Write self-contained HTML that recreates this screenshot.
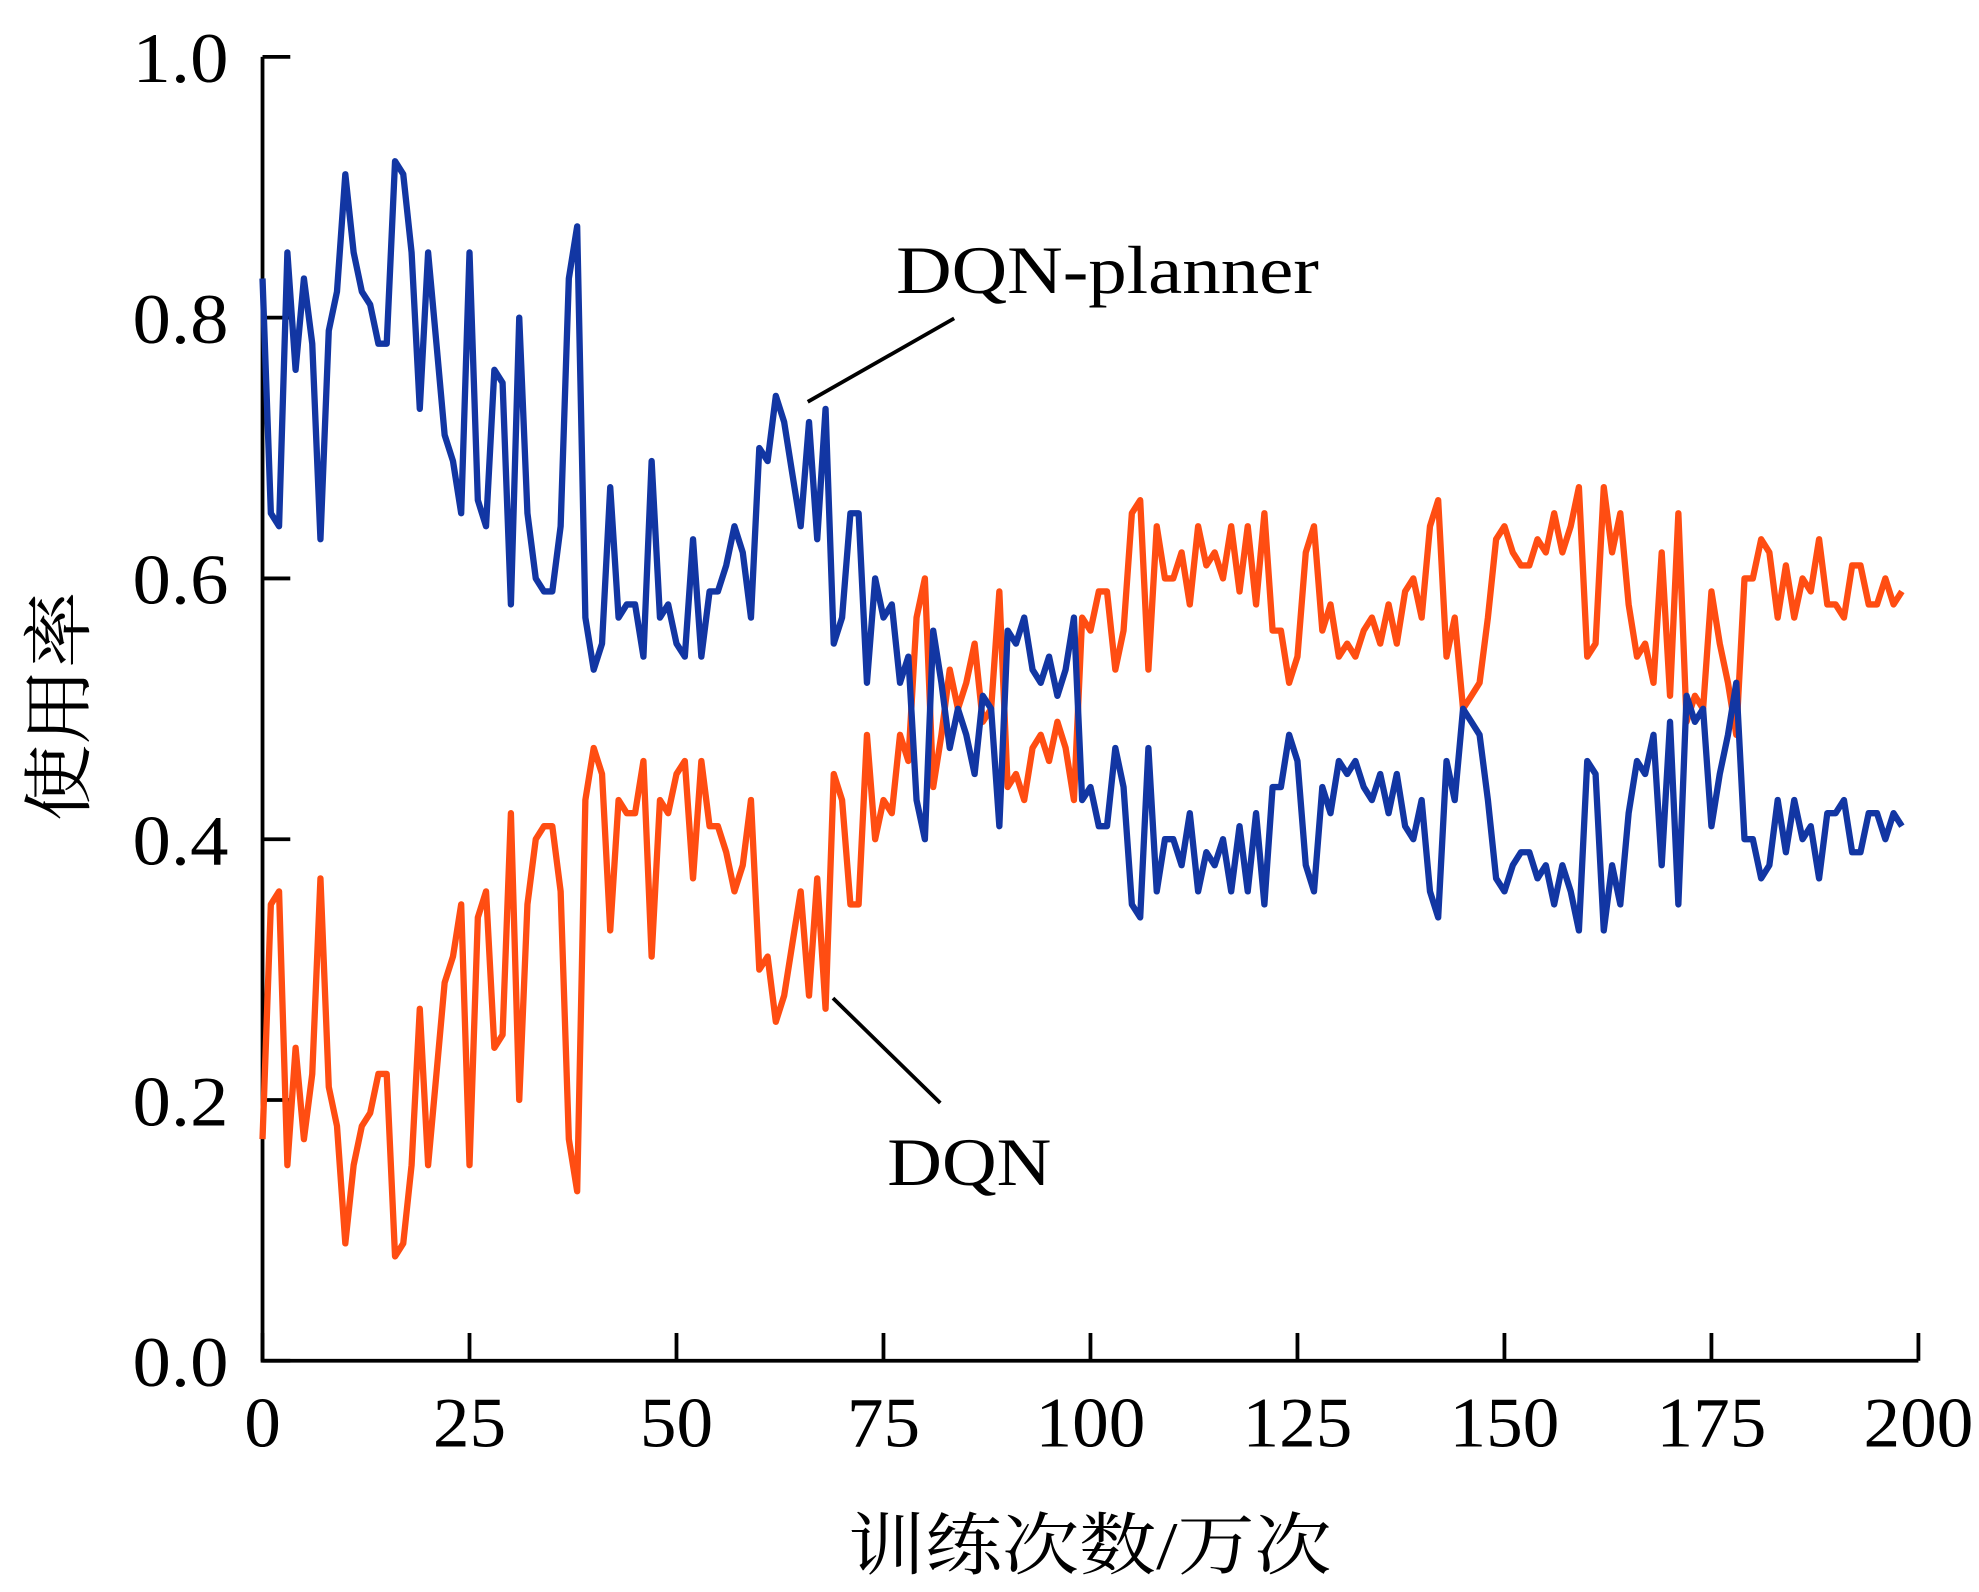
<!DOCTYPE html>
<html><head><meta charset="utf-8"><style>
html,body{margin:0;padding:0;background:#fff;}
svg{display:block;}
</style></head><body>
<svg id="chart" width="1979" height="1592" viewBox="0 0 1568 1260" preserveAspectRatio="none" xmlns="http://www.w3.org/2000/svg">
<g id="axes"></g>
<g id="series"></g>
<line x1="640" y1="318" x2="756" y2="252" stroke="#000" stroke-width="3"/>
<text x="710" y="232" font-family="Liberation Serif, serif" font-size="54" textLength="335" lengthAdjust="spacingAndGlyphs">DQN-planner</text>
<line x1="660" y1="790" x2="745" y2="873" stroke="#000" stroke-width="3"/>
<text x="703" y="938" font-family="Liberation Serif, serif" font-size="54" textLength="130" lengthAdjust="spacingAndGlyphs">DQN</text>
<text x="672" y="1242" font-family="'Liberation Serif','Noto Serif CJK SC',serif" font-size="54" textLength="383" lengthAdjust="spacingAndGlyphs">训练次数/万次</text>
<text transform="translate(66,650) rotate(-90)" font-family="'Liberation Serif','Noto Serif CJK SC',serif" font-size="56" textLength="182" lengthAdjust="spacingAndGlyphs">使用率</text>
</svg>
<script>
const xTicks=[0,25,50,75,100,125,150,175,200];
const yTicks=[0,0.2,0.4,0.6,0.8,1.0];
const yTickLabels=["0.0","0.2","0.4","0.6","0.8","1.0"];
const plannerValues=[0.83,0.65,0.64,0.85,0.76,0.83,0.78,0.63,0.79,0.82,0.91,0.85,0.82,0.81,0.78,0.78,0.92,0.91,0.85,0.73,0.85,0.78,0.71,0.69,0.65,0.85,0.66,0.64,0.76,0.75,0.58,0.80,0.65,0.60,0.59,0.59,0.64,0.83,0.87,0.57,0.53,0.55,0.67,0.57,0.58,0.58,0.54,0.69,0.57,0.58,0.55,0.54,0.63,0.54,0.59,0.59,0.61,0.64,0.62,0.57,0.70,0.69,0.74,0.72,0.68,0.64,0.72,0.63,0.73,0.55,0.57,0.65,0.65,0.52,0.60,0.57,0.58,0.52,0.54,0.43,0.40,0.56,0.52,0.47,0.50,0.48,0.45,0.51,0.50,0.41,0.56,0.55,0.57,0.53,0.52,0.54,0.51,0.53,0.57,0.43,0.44,0.41,0.41,0.47,0.44,0.35,0.34,0.47,0.36,0.40,0.40,0.38,0.42,0.36,0.39,0.38,0.40,0.36,0.41,0.36,0.42,0.35,0.44,0.44,0.48,0.46,0.38,0.36,0.44,0.42,0.46,0.45,0.46,0.44,0.43,0.45,0.42,0.45,0.41,0.40,0.43,0.36,0.34,0.46,0.43,0.50,0.49,0.48,0.43,0.37,0.36,0.38,0.39,0.39,0.37,0.38,0.35,0.38,0.36,0.33,0.46,0.45,0.33,0.38,0.35,0.42,0.46,0.45,0.48,0.38,0.49,0.35,0.51,0.49,0.50,0.41,0.45,0.48,0.52,0.40,0.40,0.37,0.38,0.43,0.39,0.43,0.40,0.41,0.37,0.42,0.42,0.43,0.39,0.39,0.42,0.42,0.40,0.42,0.41];
const dqnValues=[0.17,0.35,0.36,0.15,0.24,0.17,0.22,0.37,0.21,0.18,0.09,0.15,0.18,0.19,0.22,0.22,0.08,0.09,0.15,0.27,0.15,0.22,0.29,0.31,0.35,0.15,0.34,0.36,0.24,0.25,0.42,0.20,0.35,0.40,0.41,0.41,0.36,0.17,0.13,0.43,0.47,0.45,0.33,0.43,0.42,0.42,0.46,0.31,0.43,0.42,0.45,0.46,0.37,0.46,0.41,0.41,0.39,0.36,0.38,0.43,0.30,0.31,0.26,0.28,0.32,0.36,0.28,0.37,0.27,0.45,0.43,0.35,0.35,0.48,0.40,0.43,0.42,0.48,0.46,0.57,0.60,0.44,0.48,0.53,0.50,0.52,0.55,0.49,0.50,0.59,0.44,0.45,0.43,0.47,0.48,0.46,0.49,0.47,0.43,0.57,0.56,0.59,0.59,0.53,0.56,0.65,0.66,0.53,0.64,0.60,0.60,0.62,0.58,0.64,0.61,0.62,0.60,0.64,0.59,0.64,0.58,0.65,0.56,0.56,0.52,0.54,0.62,0.64,0.56,0.58,0.54,0.55,0.54,0.56,0.57,0.55,0.58,0.55,0.59,0.60,0.57,0.64,0.66,0.54,0.57,0.50,0.51,0.52,0.57,0.63,0.64,0.62,0.61,0.61,0.63,0.62,0.65,0.62,0.64,0.67,0.54,0.55,0.67,0.62,0.65,0.58,0.54,0.55,0.52,0.62,0.51,0.65,0.49,0.51,0.50,0.59,0.55,0.52,0.48,0.60,0.60,0.63,0.62,0.57,0.61,0.57,0.60,0.59,0.63,0.58,0.58,0.57,0.61,0.61,0.58,0.58,0.60,0.58,0.59];

const NS="http://www.w3.org/2000/svg";
const X0=208,X1=1520,Y0=1077,Y1=45;
function xScale(v){return X0+(v/200)*(X1-X0);}
function yScale(v){return Y0-v*(Y0-Y1);}
const axes=document.getElementById('axes');
const series=document.getElementById('series');
function mk(tag,attrs,parent){const e=document.createElementNS(NS,tag);for(const k in attrs)e.setAttribute(k,attrs[k]);parent.appendChild(e);return e;}

const ya=mk('line',{x1:X0,y1:Y1,x2:X0,y2:Y0,stroke:'#000','stroke-width':3},axes);


const xa=mk('line',{x1:X0-1.5,y1:Y0,x2:X1,y2:Y0,stroke:'#000','stroke-width':3},axes);



xTicks.forEach((t)=>{
  const x=xScale(t);
  const l=mk('line',{x1:x,y1:Y0,x2:x,y2:Y0-22,stroke:'#000','stroke-width':3},axes);
  
  
  const s=String(t);
  const w=s.length*29;
  const tx=mk('text',{x:x-w/2,y:Y0+68,'font-family':'Liberation Serif, serif','font-size':56,textLength:w,lengthAdjust:'spacingAndGlyphs'},axes);
  tx.textContent=s;
  
  
});
yTicks.forEach((t,i)=>{
  const y=yScale(t);
  const l=mk('line',{x1:X0,y1:y,x2:X0+22,y2:y,stroke:'#000','stroke-width':3},axes);
  
  
  const tx=mk('text',{x:105,y:y+20,'font-family':'Liberation Serif, serif','font-size':56,textLength:76,lengthAdjust:'spacingAndGlyphs'},axes);
  tx.textContent=yTickLabels[i];
  
  
});

function drawLine(vals,color,name){
  const pts=vals.map((v,i)=>xScale(i).toFixed(1)+','+yScale(v).toFixed(1)).join(' ');
  const p=mk('polyline',{points:pts,fill:'none',stroke:color,'stroke-width':5,'stroke-linejoin':'round'},series);
  
  
}
drawLine(dqnValues,'#ff4d12','dqn-line');
drawLine(plannerValues,'#1236a3','dqn-planner-line');
</script>
</body></html>
